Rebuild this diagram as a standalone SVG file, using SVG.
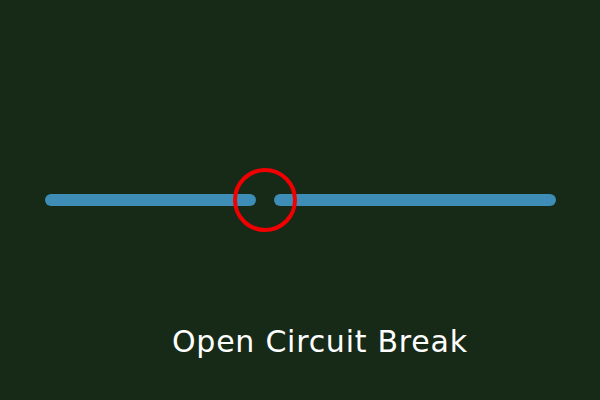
<svg xmlns="http://www.w3.org/2000/svg" width="600" height="400" viewBox="0 0 600 400">
<style>
.wire{stroke:#3d8db6;stroke-width:12;stroke-linecap:round;fill:none}
.ring{stroke:#f00000;stroke-width:4;fill:none}
.lbl{fill:#ffffff;font-family:"DejaVu Sans","Liberation Sans",sans-serif;font-size:30px}
</style>
<rect width="600" height="400" fill="#172a18"/>
<g id="connectors">
<line class="wire" x1="51" y1="200" x2="250" y2="200"/>
<line class="wire" x1="280" y1="200" x2="550" y2="200"/>
</g>
<g id="break">
<circle class="ring" cx="265" cy="200" r="30"/>
</g>
<g id="label">
<text class="lbl" x="172" y="352" textLength="295" lengthAdjust="spacing">Open Circuit Break</text>
</g>
</svg>
